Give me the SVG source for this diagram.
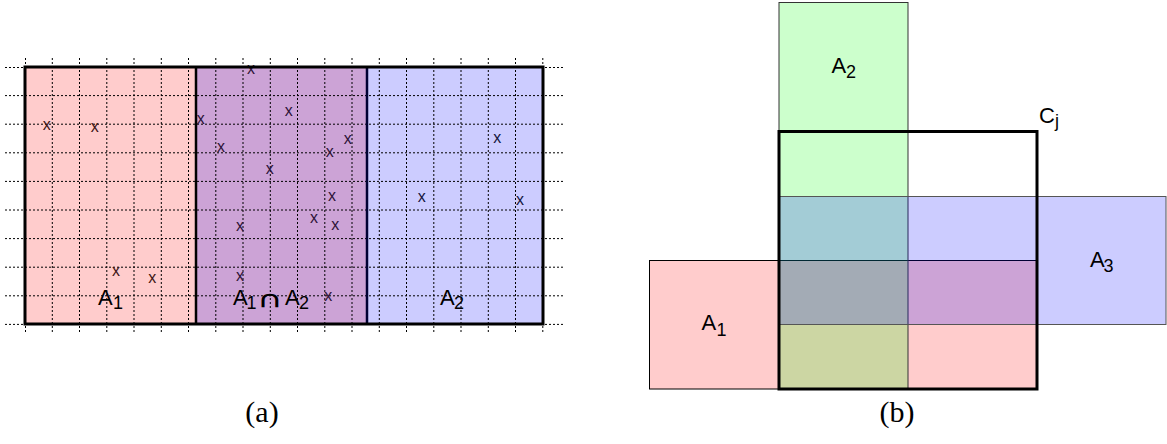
<svg xmlns="http://www.w3.org/2000/svg" width="1167" height="444" viewBox="0 0 1167 444">
<style>
.lbl{font-family:"Liberation Sans",Arial,sans-serif;font-size:22px;fill:#000}
.sub{font-size:18px}
.cap-sym{font-family:"DejaVu Sans",sans-serif;font-size:22px;fill:#000}
.mk{font-family:"Liberation Sans",Arial,sans-serif;font-size:16px;text-anchor:middle}
.mk1{fill:#3d1414}.mk2{fill:#2e1238}.mk3{fill:#14143d}
.grid{stroke:#000;stroke-width:1;stroke-dasharray:2,2;fill:none}
.cap{font-family:"Liberation Serif","Times New Roman",serif;font-size:30px;fill:#000;text-anchor:middle}
</style>
<rect width="1167" height="444" fill="#fff"/>
<g id="panel-a">
  <g id="region-A1"><rect x="25" y="67" width="171" height="257" fill="#ffcccc"/></g>
  <g id="region-A1A2"><rect x="196" y="67" width="171" height="257" fill="#cca3d6"/></g>
  <g id="region-A2"><rect x="367" y="67" width="176" height="257" fill="#ccccff"/></g>
  <g id="grid" class="grid">
    <path d="M5 67.5H563M5 95.6H563M5 124.2H563M5 152.8H563M5 181.4H563M5 210H563M5 238.6H563M5 267.2H563M5 295.8H563M5 324.4H563"/>
    <path d="M25.5 58V334M52.3 58V334M79.5 58V334M106.8 58V334M134 58V334M161.3 58V334M188.5 58V334M215.8 58V334M243 58V334M270.3 58V334M297.5 58V334M324.8 58V334M352 58V334M379.3 58V334M406.5 58V334M433.8 58V334M461 58V334M488.3 58V334M515.5 58V334M542.8 58V334"/>
  </g>
  <g id="marks">
    <text class="mk mk1" x="46.7" y="129.5">x</text>
    <text class="mk mk1" x="94.7" y="131.8">x</text>
    <text class="mk mk1" x="116" y="275.5">x</text>
    <text class="mk mk1" x="152.3" y="282.8">x</text>
    <text class="mk mk2" x="251" y="73.5">x</text>
    <text class="mk mk2" x="288.7" y="116.2">x</text>
    <text class="mk mk2" x="200.7" y="123.8">x</text>
    <text class="mk mk2" x="347.7" y="143.8">x</text>
    <text class="mk mk2" x="221" y="152.2">x</text>
    <text class="mk mk2" x="329.7" y="157.2">x</text>
    <text class="mk mk2" x="269.7" y="173.8">x</text>
    <text class="mk mk2" x="332" y="200.5">x</text>
    <text class="mk mk2" x="314" y="223.2">x</text>
    <text class="mk mk2" x="335.3" y="229.8">x</text>
    <text class="mk mk2" x="240" y="231.2">x</text>
    <text class="mk mk2" x="240" y="281.2">x</text>
    <text class="mk mk2" x="328.3" y="301.2">x</text>
    <text class="mk mk3" x="497.3" y="143.2">x</text>
    <text class="mk mk3" x="421.7" y="201.5">x</text>
    <text class="mk mk3" x="520" y="204.5">x</text>
  </g>
  <g id="borders-a" fill="none">
    <line x1="196" y1="67" x2="196" y2="324" stroke="#000" stroke-width="2.5"/>
    <line x1="367" y1="67" x2="367" y2="324" stroke="#000033" stroke-width="2.5"/>
    <rect x="25" y="67" width="518" height="257" stroke="#000" stroke-width="3"/>
  </g>
  <g id="labels-a">
    <text class="lbl" x="98" y="305">A<tspan class="sub" x="113" y="309">1</tspan></text>
    <text class="lbl" x="233" y="305">A<tspan class="sub" x="246.5" y="309">1</tspan></text>
    <text class="cap-sym" x="0" y="0" transform="translate(257,307) scale(1.6,1.05)">∩</text>
    <text class="lbl" x="285" y="305">A<tspan class="sub" x="299" y="309">2</tspan></text>
    <text class="lbl" x="440" y="305">A<tspan class="sub" x="454" y="309">2</tspan></text>
  </g>
  <text class="cap" x="262" y="422">(a)</text>
</g>
<g id="panel-b">
  <g id="A1"><rect x="649.5" y="260.5" width="387.5" height="128.5" fill="#ff0000" fill-opacity="0.2" stroke="#000" stroke-width="1"/>
    <text class="lbl" x="701.5" y="330">A<tspan class="sub" x="716.5" y="336">1</tspan></text></g>
  <g id="A2"><rect x="779" y="2.5" width="129" height="386.5" fill="#00ff00" fill-opacity="0.2" stroke="#333" stroke-width="1"/>
    <text class="lbl" x="831.5" y="73">A<tspan class="sub" x="846" y="78">2</tspan></text></g>
  <g id="A3"><rect x="779" y="196.5" width="387" height="128" fill="#0000ff" fill-opacity="0.2" stroke="#555" stroke-width="1"/>
    <text class="lbl" x="1090" y="266.5">A<tspan class="sub" x="1103.5" y="271.5">3</tspan></text></g>
  <g id="Cj"><rect x="779" y="131.5" width="258" height="257.5" fill="none" stroke="#000" stroke-width="3"/>
    <text class="lbl" x="1039" y="123">C<tspan class="sub" x="1055" y="127">j</tspan></text></g>
  <text class="cap" x="897" y="422">(b)</text>
</g>
<g id="connectors"/>
</svg>
